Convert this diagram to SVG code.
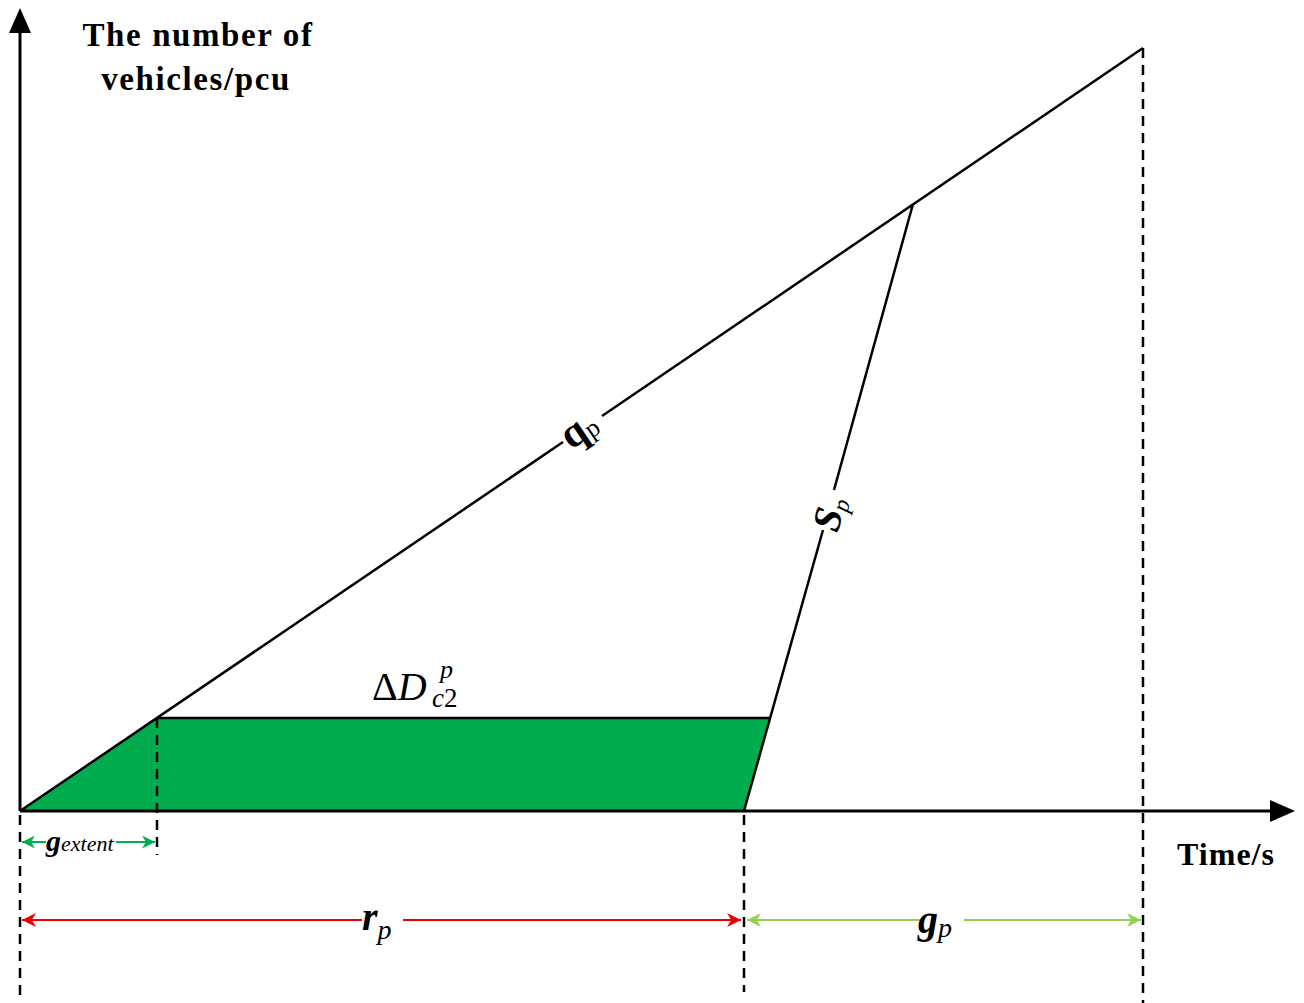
<svg xmlns="http://www.w3.org/2000/svg" width="1304" height="1003" viewBox="0 0 1304 1003">
<style>
.ax{stroke:#000;stroke-width:3;fill:none}
.ln{stroke:#000;stroke-width:2.5;fill:none}
.dash{stroke:#000;stroke-width:2.5;stroke-dasharray:10,7;fill:none}
.t{font-family:"Liberation Serif",serif;fill:#000}
</style>
<defs>
<marker id="ar" viewBox="0 0 10 10" refX="10" refY="5" markerWidth="14" markerHeight="14" markerUnits="userSpaceOnUse" orient="auto-start-reverse"><path d="M0,0 L10,5 L0,10 L3,5 z" fill="#e00"/></marker>
<marker id="ag" viewBox="0 0 10 10" refX="10" refY="5" markerWidth="14" markerHeight="14" markerUnits="userSpaceOnUse" orient="auto-start-reverse"><path d="M0,0 L10,5 L0,10 L3,5 z" fill="#92d050"/></marker>
<marker id="ae" viewBox="0 0 10 10" refX="10" refY="5" markerWidth="13" markerHeight="13" markerUnits="userSpaceOnUse" orient="auto-start-reverse"><path d="M0,0 L10,5 L0,10 L3,5 z" fill="#00b050"/></marker>
</defs>
<g id="area">
<polygon points="20,811 157,718 770,718 744,811" fill="#00ac4e"/>
<line class="ln" x1="157" y1="718" x2="770" y2="718"/>
</g>
<g id="axes">
<line class="ax" x1="20" y1="811" x2="20" y2="30"/>
<polygon points="20,8 9,33 31,33" fill="#000"/>
<line class="ax" x1="20" y1="811" x2="1272" y2="811"/>
<polygon points="1295,811 1270,800 1270,822" fill="#000"/>
</g>
<g id="connectors">
<line class="ln" x1="20" y1="811" x2="563" y2="442"/>
<line class="ln" x1="602" y1="416" x2="1143" y2="48"/>
<line class="ln" x1="744" y1="811" x2="823" y2="530"/>
<line class="ln" x1="834" y1="490" x2="913" y2="204"/>
<line class="dash" x1="20" y1="815" x2="20" y2="1000"/>
<line class="dash" x1="157" y1="718" x2="157" y2="855"/>
<line class="dash" x1="744" y1="815" x2="744" y2="992"/>
<line class="dash" x1="1143" y1="48" x2="1143" y2="1003"/>
<line x1="22" y1="842" x2="46" y2="842" stroke="#00b050" stroke-width="2" marker-start="url(#ae)"/>
<line x1="116" y1="842" x2="155" y2="842" stroke="#00b050" stroke-width="2" marker-end="url(#ae)"/>
<line x1="22" y1="920" x2="362" y2="920" stroke="#e00" stroke-width="2" marker-start="url(#ar)"/>
<line x1="403" y1="920" x2="741" y2="920" stroke="#e00" stroke-width="2" marker-end="url(#ar)"/>
<line x1="747" y1="920" x2="920" y2="920" stroke="#92d050" stroke-width="2" marker-start="url(#ag)"/>
<line x1="964" y1="920" x2="1141" y2="920" stroke="#92d050" stroke-width="2" marker-end="url(#ag)"/>
</g>
<g id="labels">
<text class="t" x="198" y="46" font-size="33" font-weight="bold" letter-spacing="1.6" text-anchor="middle">The number of</text>
<text class="t" x="196" y="90" font-size="33" font-weight="bold" letter-spacing="1.6" text-anchor="middle">vehicles/pcu</text>
<text class="t" x="1226" y="865" font-size="32" font-weight="bold" letter-spacing="1" text-anchor="middle">Time/s</text>
<text class="t" x="46" y="851" font-size="30" font-weight="bold" font-style="italic">g<tspan font-size="22" font-weight="normal">extent</tspan></text>
<text class="t" x="362" y="930" font-size="40" font-weight="bold" font-style="italic">r<tspan font-size="28" font-weight="normal" dy="9">p</tspan></text>
<text class="t" x="918" y="933" font-size="40" font-weight="bold" font-style="italic">g<tspan font-size="28" font-weight="normal" dy="4">p</tspan></text>
<text class="t" x="372" y="700" font-size="40">Δ<tspan font-style="italic">D</tspan></text>
<text class="t" x="440" y="678" font-size="26" font-style="italic">p</text>
<text class="t" x="432" y="707" font-size="27"><tspan font-style="italic">c</tspan>2</text>
<text class="t" transform="translate(586,440) rotate(-34.2)" font-size="42" font-weight="bold" text-anchor="middle">q<tspan font-size="26" font-weight="normal" dy="2">p</tspan></text>
<text class="t" transform="translate(842,517) rotate(-74.4)" font-size="40" font-weight="bold" font-style="italic" text-anchor="middle">S<tspan font-size="24" font-weight="normal" dy="4">p</tspan></text>
</g>
</svg>
